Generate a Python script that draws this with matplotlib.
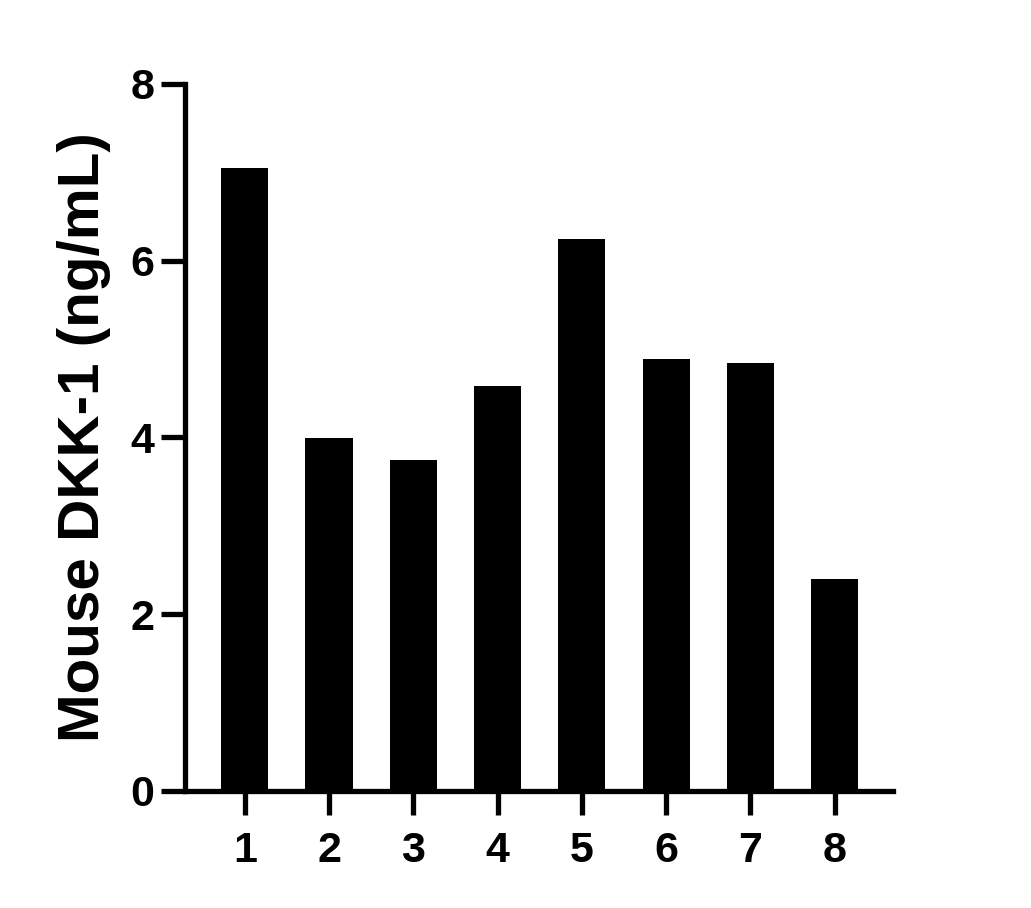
import matplotlib
matplotlib.use("Agg")
import matplotlib.pyplot as plt

samples = ["1", "2", "3", "4", "5", "6", "7", "8"]
dkk1 = [7.05, 3.99, 3.75, 4.58, 6.25, 4.89, 4.84, 2.40]
yticks = [0, 2, 4, 6, 8]

plt.rcParams['font.family'] = ['Liberation Sans', 'DejaVu Sans']
plt.rcParams['font.weight'] = 'bold'

fig = plt.figure(figsize=(10.31, 9.08), dpi=100)
ax = fig.add_axes([0.1794, 0.1289, 0.866 - 0.1794, 0.9075 - 0.1289])

pos = list(range(1, len(samples) + 1))
ax.bar(pos, dkk1, width=0.56, color="black", edgecolor="none")

ax.set_xlim(0.29, 8.69)
ax.set_ylim(0, 8)
ax.set_xticks(pos)
ax.set_xticklabels(samples)
ax.set_yticks(yticks)

for side in ["top", "right"]:
    ax.spines[side].set_visible(False)
for side in ["left", "bottom"]:
    ax.spines[side].set_linewidth(3.8)
ax.spines["left"].set_capstyle("projecting")

ax.tick_params(axis="both", length=17, width=3.8, labelsize=31)
ax.tick_params(axis="y", pad=5)
ax.tick_params(axis="x", pad=12)

ax.set_ylabel("Mouse DKK-1 (ng/mL)", fontsize=42, fontweight="bold", labelpad=14)

fig.savefig("out.png", dpi=100)
